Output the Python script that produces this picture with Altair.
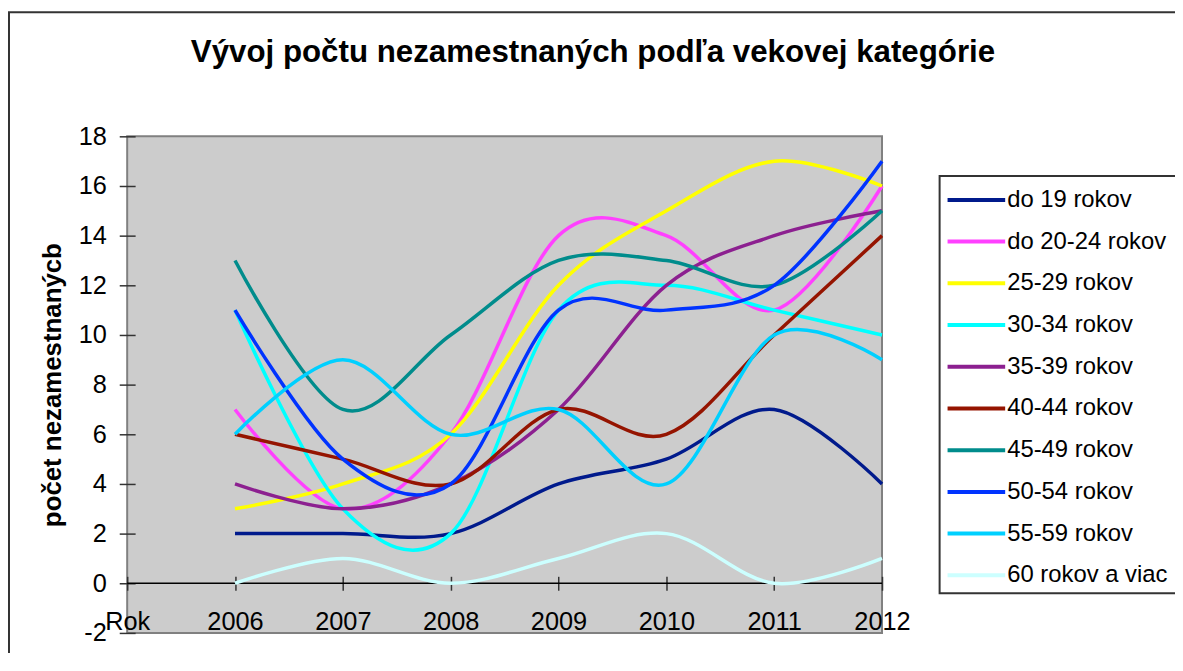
import altair as alt
import pandas as pd

categories = ["Rok", "2006", "2007", "2008", "2009", "2010", "2011", "2012"]
years = ["2006", "2007", "2008", "2009", "2010", "2011", "2012"]
series_names = ["do 19 rokov", "do 20-24 rokov", "25-29 rokov", "30-34 rokov",
                "35-39 rokov", "40-44 rokov", "45-49 rokov", "50-54 rokov",
                "55-59 rokov", "60 rokov a viac"]
do19 = [2, 2, 2, 4, 5, 7, 4]
do2024 = [7, 3, 6, 14, 14, 11, 16]
r2529 = [3, 4, 6, 12, 15, 17, 16]
r3034 = [11, 3, 2, 11, 12, 11, 10]
r3539 = [4, 3, 4, 7, 12, 14, 15]
r4044 = [6, 5, 4, 7, 6, 10, 14]
r4549 = [13, 7, 10, 13, 13, 12, 15]
r5054 = [11, 5, 4, 11, 11, 12, 17]
r5559 = [6, 9, 6, 7, 4, 10, 9]
r60 = [0, 1, 0, 1, 2, 0, 1]
colors = ["#001a8c", "#ff40ff", "#ffff00", "#00ffff", "#8c2090",
          "#951400", "#008c8c", "#0033ff", "#00d0ff", "#ccffff"]
y_ticks = [-2, 0, 2, 4, 6, 8, 10, 12, 14, 16, 18]
title_text = "Vývoj počtu nezamestnaných podľa vekovej kategórie"

all_series = [do19, do2024, r2529, r3034, r3539, r4044, r4549, r5054, r5559, r60]
rows = []
for name, vals in zip(series_names, all_series):
    for yr, v in zip(years, vals):
        rows.append({"rok": yr, "pocet": v, "kategoria": name})
df = pd.DataFrame(rows)
legend_df = pd.DataFrame({"kategoria": series_names})
one = pd.DataFrame({"a": [0]})

FONT = "Liberation Sans"
color_scale = alt.Scale(domain=series_names, range=colors)

x_enc = alt.X("rok:N", sort=categories,
              scale=alt.Scale(domain=categories, type="point", padding=0),
              axis=alt.Axis(title=None, labelAngle=0, labelFontSize=25.5, labelFont=FONT,
                            labelColor="black", domain=False, grid=False,
                            tickColor="#333", tickWidth=1.5, tickSize=14,
                            offset=-57, labelPadding=20))
y_enc = alt.Y("pocet:Q", scale=alt.Scale(domain=[-2, 18], nice=False, zero=False),
              axis=alt.Axis(title="počet nezamestnanýcb", values=y_ticks,
                            labelExpr="'' + datum.value",
                            labelFontSize=25.5, labelFont=FONT, labelColor="black",
                            titleFont=FONT, titleFontSize=26, titleFontWeight="bold",
                            titleColor="black", titlePadding=13,
                            domain=False, grid=False, tickColor="#333", tickWidth=1.5,
                            tickSize=16, offset=-8, labelPadding=13))

lines = alt.Chart(df).mark_line(interpolate="cardinal", strokeWidth=3.5).encode(
    x=x_enc,
    y=y_enc,
    color=alt.Color("kategoria:N", scale=color_scale, legend=None),
)

zero_rule = alt.Chart(one).mark_rule(color="black", strokeWidth=1.5).encode(
    y=alt.datum(0, type="quantitative"))
frame = alt.Chart(one).mark_rect(filled=False, stroke="#333", strokeWidth=2).encode(
    x=alt.value(-119), x2=alt.value(1100), y=alt.value(-125), y2=alt.value(640))
title = alt.Chart(one).mark_text(text=title_text, font=FONT, fontSize=31.5, fontWeight="bold",
                                 color="black", align="center", baseline="alphabetic").encode(
    x=alt.value(469), y=alt.value(-75))

main = alt.layer(frame, zero_rule, lines)

leg_y = alt.Y("kategoria:N", sort=series_names,
              scale=alt.Scale(domain=series_names, range=[64, 442], type="point", padding=0),
              axis=None)
leg_box = alt.Chart(one).mark_rect(fill="white", stroke="#333", strokeWidth=2).encode(
    x=alt.value(818), x2=alt.value(1100), y=alt.value(40), y2=alt.value(460))
leg_sym = alt.Chart(legend_df).mark_rule(strokeWidth=4).encode(
    x=alt.value(826), x2=alt.value(884), y=leg_y,
    color=alt.Color("kategoria:N", scale=color_scale, legend=None))
leg_txt = alt.Chart(legend_df).mark_text(align="left", baseline="middle", font=FONT,
                                         fontSize=24, color="black").encode(
    x=alt.value(886), y=leg_y, text="kategoria:N")

legend = alt.layer(leg_box, leg_sym, leg_txt, title)

chart = alt.layer(main, legend).resolve_scale(y="independent").properties(
    width=760, height=500,
    autosize=alt.AutoSizeParams(type="none"),
    padding={"left": 120, "top": 127, "right": 295, "bottom": 18},
).configure_view(fill="#cccccc", stroke="#808080", strokeWidth=2)

chart.save("out.html", embed_options={"renderer": "svg", "actions": False})
